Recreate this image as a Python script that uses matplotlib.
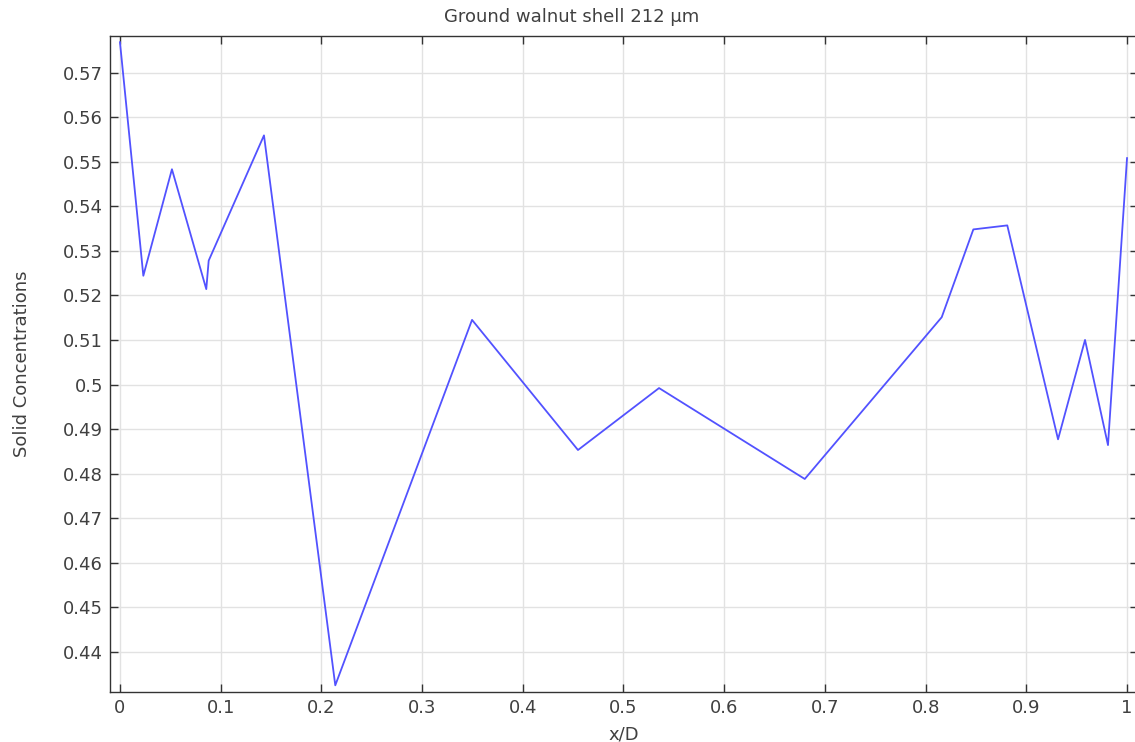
import matplotlib
matplotlib.use('Agg')
import matplotlib.pyplot as plt

# x/D 위치와 고체 농도
x_d = [0.0, 0.0232, 0.0516, 0.0857, 0.0881, 0.1430, 0.2138, 0.3496, 0.4548,
       0.5353, 0.6800, 0.8160, 0.8474, 0.8811, 0.9315, 0.9583, 0.9811, 1.0]
conc = [0.5768, 0.5244, 0.5483, 0.5214, 0.5278, 0.5559, 0.4325, 0.5145, 0.4853,
        0.4992, 0.4788, 0.5151, 0.5348, 0.5357, 0.4877, 0.5100, 0.4864, 0.5508]

x_ticks = [0.0, 0.1, 0.2, 0.3, 0.4, 0.5, 0.6, 0.7, 0.8, 0.9, 1.0]
x_labels = ['0', '0.1', '0.2', '0.3', '0.4', '0.5', '0.6', '0.7', '0.8', '0.9', '1']
y_ticks = [0.44, 0.45, 0.46, 0.47, 0.48, 0.49, 0.5, 0.51, 0.52, 0.53, 0.54, 0.55, 0.56, 0.57]
y_labels = ['0.44', '0.45', '0.46', '0.47', '0.48', '0.49', '0.5', '0.51', '0.52',
            '0.53', '0.54', '0.55', '0.56', '0.57']

txt = '#404040'
plt.rcParams['font.family'] = ['DejaVu Sans']

fig = plt.figure(figsize=(11.35, 7.42), dpi=100)
# 오른쪽 축선은 그림 밖으로 살짝 잘려 있음
ax = fig.add_axes([110 / 1135, 1 - 692 / 742, 1028 / 1135, 656 / 742])

ax.plot(x_d, conc, color='#5252ff', lw=1.3)

ax.set_xlim(-0.0099, 1.0109)
ax.set_ylim(0.4310, 0.5782)
ax.set_xticks(x_ticks)
ax.set_xticklabels(x_labels)
ax.set_yticks(y_ticks)
ax.set_yticklabels(y_labels)
ax.grid(True, color='#e2e2e2', lw=1)
ax.set_axisbelow(True)
ax.tick_params(direction='in', top=True, right=True, length=6, width=1,
               labelsize=13, labelcolor=txt, color='#333333', pad=5)
for s in ax.spines.values():
    s.set_color('#333333')
    s.set_linewidth(1)

# 제목은 그림 전체 기준 가운데
fig.text(572 / 1135, 1 - 17 / 742, 'Ground walnut shell 212 µm', fontsize=13,
         color=txt, ha='center', va='center')
ax.set_xlabel('x/D', fontsize=13, color=txt, labelpad=6)
ax.set_ylabel('Solid Concentrations', fontsize=13, color=txt, labelpad=23)

fig.savefig('out.png', dpi=100)
